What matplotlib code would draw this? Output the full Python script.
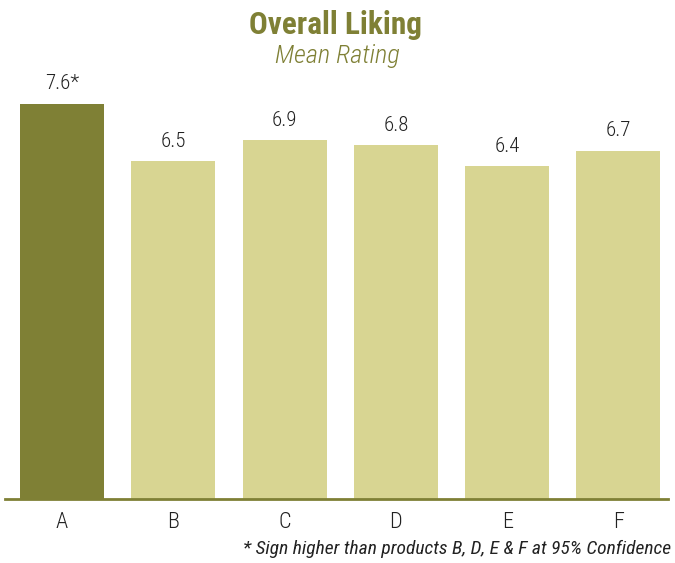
import matplotlib.pyplot as plt

# data
products = ['A', 'B', 'C', 'D', 'E', 'F']
ratings = [7.6, 6.5, 6.9, 6.8, 6.4, 6.7]
labels = ['7.6*', '6.5', '6.9', '6.8', '6.4', '6.7']

dark = '#7f8035'
light = '#d8d592'
fam = ['Roboto Condensed', 'Roboto', 'DejaVu Sans']

fig = plt.figure(figsize=(6.75, 5.63), dpi=100)
ax = fig.add_axes([5 / 675, 64 / 563, 663 / 675, 442 / 563])

x = list(range(len(products)))
colors = [dark] + [light] * (len(products) - 1)
bars = ax.bar(x, ratings, width=0.755, color=colors, zorder=2)

for b, t in zip(bars, labels):
    ax.text(b.get_x() + b.get_width() / 2, b.get_height() + 0.2, t,
            ha='center', va='bottom', fontsize=15, fontweight='light',
            color='#222222', family=fam)

ax.set_xlim(-0.512, 5.445)
ax.set_ylim(0, 8.5)
ax.set_xticks(x)
ax.set_xticklabels(products, fontsize=16, fontweight='light', family=fam,
                   color='#222222')
ax.tick_params(axis='x', length=0, pad=9)
ax.set_yticks([])
for s in ['top', 'right', 'left']:
    ax.spines[s].set_visible(False)
ax.spines['bottom'].set_color(dark)
ax.spines['bottom'].set_linewidth(2)

fig.text(0.497, 1 - 25 / 563, 'Overall Liking', ha='center', va='center',
         fontsize=22.5, fontweight='bold', color=dark, family=fam)
fig.text(0.5, 1 - 56 / 563, 'Mean Rating', ha='center', va='center',
         fontsize=19, fontweight='light', style='italic', color=dark,
         family=fam)
fig.text(671 / 675, 1 - 549 / 563,
         '* Sign higher than products B, D, E & F at 95% Confidence',
         ha='right', va='center', fontsize=14, style='italic',
         color='#222222', family=fam)

fig.savefig('out.png', dpi=100)
